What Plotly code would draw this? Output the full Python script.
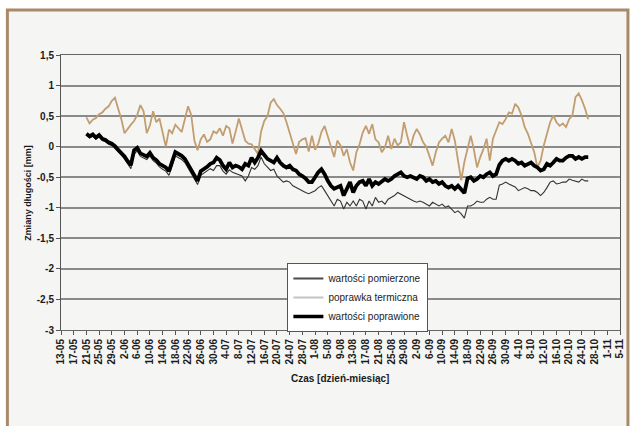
import pandas as pd
import plotly.graph_objects as go

# Daily readings, 21 May - 26 Oct [mm]
start_day = "2006-05-21"

measured = [
    0.19, 0.14, 0.17, 0.12, 0.16, 0.10, 0.08, 0.04, 0.02, -0.03,
    -0.09, -0.14, -0.20, -0.29, -0.36, -0.12, -0.07, -0.16, -0.19, -0.21,
    -0.15, -0.23, -0.27, -0.33, -0.37, -0.40, -0.47, -0.29, -0.15, -0.18,
    -0.21, -0.26, -0.35, -0.42, -0.51, -0.62, -0.47, -0.43, -0.40, -0.36,
    -0.39, -0.31, -0.31, -0.40, -0.45, -0.38, -0.42, -0.44, -0.46, -0.48,
    -0.56, -0.48, -0.34, -0.37, -0.31, -0.17, -0.28, -0.34, -0.39, -0.37,
    -0.48, -0.53, -0.58, -0.56, -0.58, -0.64, -0.67, -0.69, -0.72, -0.75,
    -0.77, -0.74, -0.72, -0.67, -0.64, -0.72, -0.80, -0.89, -0.97, -0.86,
    -0.89, -1.02, -0.91, -0.97, -0.89, -0.97, -0.86, -0.89, -1.02, -0.89,
    -0.97, -0.83, -0.91, -0.89, -0.94, -0.86, -0.83, -0.80, -0.75, -0.78,
    -0.80, -0.83, -0.86, -0.89, -0.91, -0.89, -0.91, -0.94, -0.97, -0.91,
    -0.94, -0.97, -0.94, -0.99, -0.97, -1.02, -1.08, -1.05, -1.10, -1.17,
    -0.97, -0.97, -0.94, -0.89, -0.91, -0.91, -0.86, -0.83, -0.86, -0.86,
    -0.63, -0.61, -0.58, -0.61, -0.64, -0.66, -0.72, -0.69, -0.67, -0.69,
    -0.72, -0.72, -0.75, -0.80, -0.75, -0.67, -0.58, -0.56, -0.61, -0.60,
    -0.58, -0.58, -0.53, -0.55, -0.56, -0.58, -0.53, -0.56, -0.56,
]

thermal = [
    0.48, 0.38, 0.44, 0.47, 0.53, 0.56, 0.62, 0.66, 0.75, 0.80,
    0.62, 0.45, 0.22, 0.30, 0.36, 0.42, 0.52, 0.68, 0.58, 0.22,
    0.35, 0.58, 0.40, 0.46, 0.25, 0.00, 0.28, 0.22, 0.36, 0.30,
    0.24, 0.45, 0.66, 0.52, 0.10, -0.06, 0.12, 0.20, 0.08, 0.12,
    0.25, 0.22, 0.30, 0.18, 0.34, 0.30, 0.05, 0.25, 0.46, 0.28,
    0.10, 0.05, 0.04, -0.04, -0.12, 0.25, 0.42, 0.50, 0.72, 0.78,
    0.68, 0.62, 0.55, 0.40, 0.22, 0.05, -0.12, 0.08, 0.12, 0.14,
    -0.08, 0.18, -0.05, 0.05, 0.24, 0.34, 0.18, 0.02, -0.17, 0.10,
    0.02, -0.15, -0.04, -0.26, -0.39, -0.09, 0.04, 0.23, 0.34, 0.21,
    0.37, 0.12, 0.07, -0.09, -0.01, 0.18, -0.04, 0.13, 0.02, 0.07,
    0.40, 0.18, -0.02, 0.18, 0.29, 0.20, 0.07, 0.00, -0.15, -0.31,
    -0.09, 0.07, 0.13, 0.18, 0.07, 0.29, 0.10, -0.25, -0.55, -0.25,
    -0.05, 0.18, -0.05, -0.34, -0.17, -0.04, 0.13, -0.23, 0.13, 0.26,
    0.40, 0.37, 0.45, 0.56, 0.54, 0.70, 0.64, 0.51, 0.32, 0.21,
    0.07, -0.09, -0.34, -0.23, 0.02, 0.21, 0.40, 0.51, 0.40, 0.34,
    0.38, 0.32, 0.45, 0.51, 0.81, 0.87, 0.76, 0.62, 0.45,
]

corrected = [
    0.21, 0.17, 0.20, 0.15, 0.19, 0.13, 0.11, 0.07, 0.05, 0.01,
    -0.05, -0.10, -0.16, -0.24, -0.30, -0.06, -0.02, -0.11, -0.14, -0.16,
    -0.10, -0.18, -0.22, -0.28, -0.31, -0.34, -0.40, -0.22, -0.09, -0.12,
    -0.15, -0.20, -0.29, -0.36, -0.45, -0.56, -0.40, -0.37, -0.33, -0.28,
    -0.26, -0.18, -0.22, -0.31, -0.37, -0.26, -0.34, -0.31, -0.33, -0.37,
    -0.28, -0.31, -0.18, -0.26, -0.18, -0.07, -0.13, -0.20, -0.23, -0.26,
    -0.18, -0.26, -0.31, -0.34, -0.31, -0.37, -0.39, -0.45, -0.48, -0.52,
    -0.58, -0.58, -0.50, -0.42, -0.37, -0.45, -0.56, -0.64, -0.69, -0.66,
    -0.64, -0.80, -0.69, -0.58, -0.75, -0.64, -0.58, -0.56, -0.64, -0.53,
    -0.64, -0.58, -0.61, -0.56, -0.53, -0.56, -0.53, -0.48, -0.45, -0.42,
    -0.48, -0.50, -0.48, -0.50, -0.53, -0.48, -0.50, -0.56, -0.53, -0.58,
    -0.56, -0.61, -0.58, -0.64, -0.67, -0.64, -0.69, -0.64, -0.70, -0.76,
    -0.52, -0.50, -0.56, -0.53, -0.48, -0.50, -0.45, -0.42, -0.48, -0.45,
    -0.30, -0.23, -0.20, -0.23, -0.20, -0.23, -0.28, -0.26, -0.31, -0.28,
    -0.26, -0.31, -0.34, -0.39, -0.37, -0.28, -0.31, -0.26, -0.20, -0.23,
    -0.23, -0.18, -0.15, -0.15, -0.20, -0.17, -0.20, -0.17, -0.17,
]

series_names = ["wartości pomierzone", "poprawka termiczna", "wartości poprawione"]

y_tick_values = [-3, -2.5, -2, -1.5, -1, -0.5, 0, 0.5, 1, 1.5]
y_tick_labels = ["-3", "-2,5", "-2", "-1,5", "-1", "-0,5", "0", "0,5", "1", "1,5"]

x_range = ["2006-05-13", "2006-11-05"]
x_tick_step_days = 4

dates = pd.date_range(start_day, periods=len(corrected), freq="D")

FONT = "Liberation Sans, Arial, sans-serif"

fig = go.Figure()

# plotted series (their legend samples are drawn separately below)
fig.add_trace(go.Scatter(x=dates, y=measured, mode="lines",
                         line=dict(color="#333333", width=1.1),
                         showlegend=False, hoverinfo="skip"))
fig.add_trace(go.Scatter(x=dates, y=thermal, mode="lines",
                         line=dict(color="#c29d70", width=1.8),
                         showlegend=False, hoverinfo="skip"))
fig.add_trace(go.Scatter(x=dates, y=corrected, mode="lines",
                         line=dict(color="#000000", width=3.8),
                         showlegend=False, hoverinfo="skip"))

# legend entries
legend_styles = [dict(color="#4a4a4a", width=2),
                 dict(color="#c0c4c8", width=2),
                 dict(color="#000000", width=3.5)]
for name, style in zip(series_names, legend_styles):
    fig.add_trace(go.Scatter(x=[None], y=[None], mode="lines", name=name,
                             line=style, showlegend=True))

W, H = 637, 426
L, R, T, B = 61, 13, 55, 96
pw, ph = W - L - R, H - T - B


def px_x(p):
    return (p - L) / pw


def px_y(p):
    return (H - B - p) / ph


# outer frame of the chart
fig.add_shape(type="rect", xref="paper", yref="paper",
              x0=px_x(7), x1=px_x(632), y0=px_y(445), y1=px_y(10),
              line=dict(color="#a98a68", width=3), fillcolor="#f5f5f3",
              layer="below")

fig.update_layout(
    width=W, height=H,
    margin=dict(l=L, r=R, t=T, b=B),
    paper_bgcolor="#ffffff",
    plot_bgcolor="#fdfdfd",
    font=dict(family=FONT, size=10, color="#1a1a1a"),
    legend=dict(x=px_x(289), y=px_y(263), xanchor="left", yanchor="top",
                bgcolor="#ffffff", bordercolor="#555555", borderwidth=1,
                font=dict(family=FONT, size=10, color="#222222"),
                tracegroupgap=0, itemwidth=30),
    showlegend=True,
)

fig.update_xaxes(
    type="date", range=x_range,
    tick0=x_range[0], dtick=x_tick_step_days * 86400000,
    tickformat="%-d-%m", tickangle=-90,
    tickfont=dict(family=FONT, size=10, color="#1a1a1a", weight="bold"),
    ticks="outside", ticklen=4, tickcolor="#555555",
    showgrid=False, showline=True, linecolor="#666666", linewidth=1,
    mirror=True, zeroline=False,
)

fig.update_yaxes(
    range=[-3, 1.5], tickvals=y_tick_values, ticktext=y_tick_labels,
    tickfont=dict(family=FONT, size=10, color="#1a1a1a", weight="bold"),
    ticks="outside", ticklen=4, tickcolor="#555555",
    showgrid=True, gridcolor="#8a8a8a", gridwidth=1.5,
    showline=True, linecolor="#555555", linewidth=1, mirror=True,
    zeroline=False,
)

# axis titles
fig.add_annotation(text="<b>Czas [dzień-miesiąc]</b>", xref="paper", yref="paper",
                   x=px_x(342), y=px_y(378), xanchor="center", yanchor="middle",
                   showarrow=False, font=dict(family=FONT, size=10, color="#1a1a1a"))
fig.add_annotation(text="<b>Zmiany długości [mm]</b>", xref="paper", yref="paper",
                   x=px_x(27), y=0.5, xanchor="center", yanchor="middle",
                   textangle=-90, showarrow=False,
                   font=dict(family=FONT, size=9, color="#1a1a1a"))

fig.write_html("out.html")
